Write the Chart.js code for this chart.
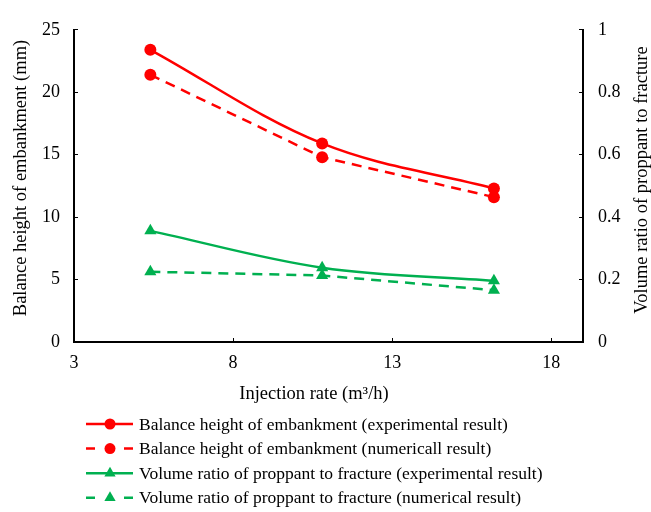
<!DOCTYPE html>
<html>
<head>
<meta charset="utf-8">
<script src="https://cdn.jsdelivr.net/npm/chart.js@4.4.1/dist/chart.umd.min.js"></script>
<style>
  html, body { margin: 0; padding: 0; background: #fff; }
  canvas { display: block; }
</style>
</head>
<body>
<canvas id="chart" width="651" height="512"></canvas>
<script>
// data
const injectionRate = [5.4, 10.8, 16.2];
const heightExperimental = [23.4, 15.9, 12.3];
const heightNumerical = [21.4, 14.8, 11.6];
const ratioExperimental = [0.356, 0.238, 0.196];
const ratioNumerical = [0.225, 0.213, 0.166];

const xTicks = [3, 8, 13, 18];
const heightTicks = [0, 5, 10, 15, 20, 25];
const ratioTicks = [0, 0.2, 0.4, 0.6, 0.8, 1];

const seriesLabels = [
  'Balance height of embankment (experimental result)',
  'Balance height of embankment (numericall result)',
  'Volume ratio of proppant to fracture (experimental result)',
  'Volume ratio of proppant to fracture (numerical result)'
];
const xTitle = 'Injection rate (m\u00b3/h)';
const leftTitle = 'Balance height of embankment (mm)';
const rightTitle = 'Volume ratio of proppant to fracture';

const RED = '#ff0000';
const GREEN = '#00b050';
const FONT = "'Liberation Serif', 'Times New Roman', serif";
const tickFont = { family: FONT, size: 18 };

const toPoints = (ys) => injectionRate.map((x, i) => ({ x, y: ys[i] }));
const useTicks = (values) => (scale) => { scale.ticks = values.map(v => ({ value: v })); };

const series = (label, data, color, dashed, style, axis) => ({
  label, data: toPoints(data), yAxisID: axis,
  borderColor: color, backgroundColor: color, borderWidth: 2.5,
  borderDash: dashed ? [10, 7] : [],
  tension: dashed ? 0 : 0.35,
  pointStyle: style, pointRadius: style === 'circle' ? 6 : 7,
  pointBorderWidth: 0, pointBackgroundColor: color
});

const drawMarker = (ctx, style, x, y, r, color) => {
  ctx.fillStyle = color;
  ctx.beginPath();
  if (style === 'circle') {
    ctx.arc(x, y, r, 0, Math.PI * 2);
  } else {
    ctx.moveTo(x, y - r);
    ctx.lineTo(x + r * 0.866, y + r * 0.5);
    ctx.lineTo(x - r * 0.866, y + r * 0.5);
    ctx.closePath();
  }
  ctx.fill();
};

// axis titles (right one reads bottom-up) and the legend under the plot
const extras = {
  id: 'extras',
  afterDraw(chart) {
    const { ctx } = chart;
    ctx.save();
    ctx.font = `18.5px ${FONT}`;
    ctx.fillStyle = '#000';
    ctx.textAlign = 'center';
    ctx.textBaseline = 'middle';
    ctx.fillText(xTitle, 314, 394);

    [[21, 178, leftTitle], [642, 180, rightTitle]].forEach(([x, y, t]) => {
      ctx.save();
      ctx.translate(x, y);
      ctx.rotate(-Math.PI / 2);
      ctx.fillText(t, 0, 0);
      ctx.restore();
    });

    ctx.font = `17.5px ${FONT}`;
    chart.data.datasets.forEach((ds, i) => {
      const y = 424 + i * 24.6;
      ctx.strokeStyle = ds.borderColor;
      ctx.lineWidth = ds.borderWidth;
      ctx.beginPath();
      if (ds.borderDash.length) {
        ctx.moveTo(86, y); ctx.lineTo(95, y);
        ctx.moveTo(124, y); ctx.lineTo(133, y);
      } else {
        ctx.moveTo(86, y); ctx.lineTo(133, y);
      }
      ctx.stroke();
      drawMarker(ctx, ds.pointStyle, 110, y, ds.pointRadius - 0.5, ds.borderColor);
      ctx.fillStyle = '#000';
      ctx.textAlign = 'left';
      ctx.fillText(ds.label, 139, y + 1);
    });
    ctx.restore();
  }
};

const axisBase = {
  border: { color: '#000', width: 2 },
  grid: { drawOnChartArea: false, tickLength: -4, color: '#000', lineWidth: 1 }
};

new Chart(document.getElementById('chart'), {
  type: 'line',
  data: {
    datasets: [
      series(seriesLabels[0], heightExperimental, RED, false, 'circle', 'y'),
      series(seriesLabels[1], heightNumerical, RED, true, 'circle', 'y'),
      series(seriesLabels[2], ratioExperimental, GREEN, false, 'triangle', 'y1'),
      series(seriesLabels[3], ratioNumerical, GREEN, true, 'triangle', 'y1')
    ]
  },
  options: {
    responsive: false,
    animation: false,
    layout: { padding: { top: 22 } },
    plugins: { legend: { display: false }, tooltip: { enabled: false } },
    scales: {
      x: {
        ...axisBase, type: 'linear', min: 3, max: 19,
        afterBuildTicks: useTicks(xTicks),
        afterFit: (s) => { s.height = 170; },
        ticks: { font: tickFont, color: '#000', padding: 14 }
      },
      y: {
        ...axisBase, position: 'left', min: 0, max: 25,
        afterBuildTicks: useTicks(heightTicks),
        afterFit: (s) => { s.width = 74; },
        ticks: { font: tickFont, color: '#000', padding: 18 }
      },
      y1: {
        ...axisBase, position: 'right', min: 0, max: 1,
        afterBuildTicks: useTicks(ratioTicks),
        afterFit: (s) => { s.width = 68; },
        ticks: { font: tickFont, color: '#000', padding: 19, callback: (v) => String(v) }
      }
    }
  },
  plugins: [extras]
});
</script>
</body>
</html>
